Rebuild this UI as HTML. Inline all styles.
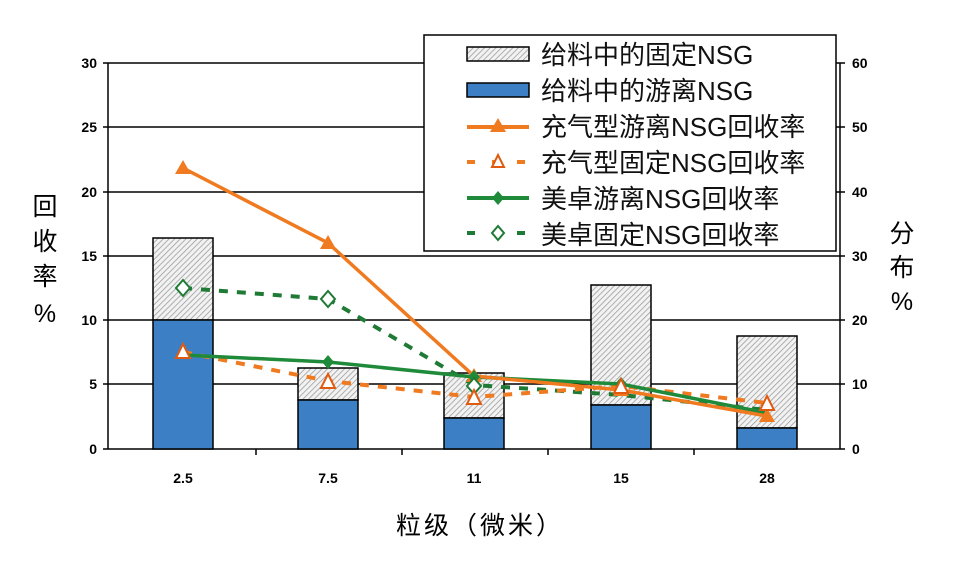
<!DOCTYPE html>
<html><head><meta charset="utf-8"><style>
body{margin:0;background:#fff;}
svg text{font-family:"Liberation Sans","Noto Sans CJK SC",sans-serif;}
</style></head><body>
<svg width="960" height="559" viewBox="0 0 960 559" xmlns="http://www.w3.org/2000/svg">
<defs>
<pattern id="h" width="4" height="4" patternUnits="userSpaceOnUse" patternTransform="rotate(45)">
<rect width="4" height="4" fill="#f2f2f2"/><line x1="0" y1="0" x2="0" y2="4" stroke="#999" stroke-width="1.5"/>
</pattern>
</defs>
<g stroke="#000" stroke-width="1.5">
<line x1="108" y1="63" x2="840" y2="63"/>
<line x1="108" y1="127" x2="840" y2="127"/>
<line x1="108" y1="192" x2="840" y2="192"/>
<line x1="108" y1="256" x2="840" y2="256"/>
<line x1="108" y1="320" x2="840" y2="320"/>
<line x1="108" y1="384" x2="840" y2="384"/>
<line x1="108" y1="63" x2="108" y2="449"/>
<line x1="840" y1="63" x2="840" y2="449"/>
<line x1="108" y1="449" x2="840" y2="449"/>
<line x1="103" y1="63" x2="108" y2="63"/><line x1="103" y1="127" x2="108" y2="127"/><line x1="103" y1="192" x2="108" y2="192"/><line x1="103" y1="256" x2="108" y2="256"/><line x1="103" y1="320" x2="108" y2="320"/><line x1="103" y1="384" x2="108" y2="384"/><line x1="103" y1="449" x2="108" y2="449"/>
<line x1="840" y1="63" x2="845" y2="63"/><line x1="840" y1="127" x2="845" y2="127"/><line x1="840" y1="192" x2="845" y2="192"/><line x1="840" y1="256" x2="845" y2="256"/><line x1="840" y1="320" x2="845" y2="320"/><line x1="840" y1="384" x2="845" y2="384"/><line x1="840" y1="449" x2="845" y2="449"/>
<line x1="256" y1="449" x2="256" y2="455"/><line x1="402" y1="449" x2="402" y2="455"/><line x1="548" y1="449" x2="548" y2="455"/><line x1="694" y1="449" x2="694" y2="455"/>
</g>
<g stroke="#000" stroke-width="1.5">
<rect x="153" y="238" width="60" height="82" fill="url(#h)"/><rect x="153" y="320" width="60" height="129" fill="#3d7fc4"/>
<rect x="298" y="368" width="60" height="32" fill="url(#h)"/><rect x="298" y="400" width="60" height="49" fill="#3d7fc4"/>
<rect x="444" y="373" width="60" height="45" fill="url(#h)"/><rect x="444" y="418" width="60" height="31" fill="#3d7fc4"/>
<rect x="591" y="285" width="60" height="120" fill="url(#h)"/><rect x="591" y="405" width="60" height="44" fill="#3d7fc4"/>
<rect x="737" y="336" width="60" height="92" fill="url(#h)"/><rect x="737" y="428" width="60" height="21" fill="#3d7fc4"/>
</g>
<polyline points="183,288 328,299 474,385 621,395 767,410" fill="none" stroke="#1e7a35" stroke-width="4" stroke-dasharray="9,9"/>
<polyline points="183,352 328,381 474,397 621,386 767,403" fill="none" stroke="#f07a20" stroke-width="4" stroke-dasharray="9,9"/>
<polyline points="183,355 328,362 474,377 621,384 767,413" fill="none" stroke="#1e8a3a" stroke-width="3.5"/>
<polyline points="183,168 328,243 474,376 621,390 767,416" fill="none" stroke="#f07a20" stroke-width="3.5"/>
<g fill="#f07a20"><path d="M183,160 l8,14 h-16z"/><path d="M328,235 l8,14 h-16z"/><path d="M474,368 l8,14 h-16z"/><path d="M621,382 l8,14 h-16z"/><path d="M767,408 l8,14 h-16z"/></g>
<g fill="#1e8a3a"><path d="M328,355 l6,7 -6,7 -6,-7z"/><path d="M621,377 l6,7 -6,7 -6,-7z"/><path d="M474,370 l6,7 -6,7 -6,-7z"/></g>
<g fill="#fff" stroke="#1e7a35" stroke-width="2"><path d="M183,280 l7,8 -7,8 -7,-8z"/><path d="M328,291 l7,8 -7,8 -7,-8z"/><path d="M474,378 l7,8 -7,8 -7,-8z"/></g>
<g fill="#fff" stroke="#e05a10" stroke-width="2"><path d="M183,344 l7,14 h-14z"/><path d="M328,374 l7,14 h-14z"/><path d="M474,390 l7,14 h-14z"/><path d="M621,379 l7,14 h-14z"/><path d="M767,396 l7,14 h-14z"/></g>
<g font-size="14" font-weight="bold" style="font-family:'Liberation Serif',serif" text-anchor="end">
<text x="97" y="68">30</text><text x="97" y="132">25</text><text x="97" y="197">20</text><text x="97" y="261">15</text><text x="97" y="325">10</text><text x="97" y="389">5</text><text x="97" y="454">0</text>
</g>
<g font-size="14" font-weight="bold" style="font-family:'Liberation Serif',serif" text-anchor="start">
<text x="852" y="68">60</text><text x="852" y="132">50</text><text x="852" y="197">40</text><text x="852" y="261">30</text><text x="852" y="325">20</text><text x="852" y="389">10</text><text x="852" y="454">0</text>
</g>
<g font-size="14" font-weight="bold" style="font-family:'Liberation Serif',serif" text-anchor="middle">
<text x="183" y="483">2.5</text><text x="328" y="483">7.5</text><text x="474" y="483">11</text><text x="621" y="483">15</text><text x="767" y="483">28</text>
</g>
<g font-size="25" text-anchor="middle">
<text x="45" y="215">回</text><text x="45" y="250">收</text><text x="45" y="285">率</text><text x="45" y="322">%</text>
<text x="902" y="242">分</text><text x="902" y="276">布</text><text x="902" y="310">%</text>
<text x="480" y="534" letter-spacing="3">粒级（微米）</text>
</g>
<rect x="424" y="35" width="412" height="216" fill="#fff" stroke="#000" stroke-width="1.5"/>
<rect x="467" y="47" width="62" height="14" fill="url(#h)" stroke="#000" stroke-width="1.5"/>
<rect x="467" y="83" width="62" height="14" fill="#3d7fc4" stroke="#000" stroke-width="1.5"/>
<line x1="467" y1="127" x2="529" y2="127" stroke="#f07a20" stroke-width="4"/><path d="M498,118 l8,14 h-16z" fill="#f07a20"/>
<line x1="467" y1="162" x2="529" y2="162" stroke="#f07a20" stroke-width="4" stroke-dasharray="8,17"/><path d="M498,155 l6,12 h-12z" fill="#fff" stroke="#e05a10" stroke-width="2"/>
<line x1="467" y1="198" x2="529" y2="198" stroke="#1e8a3a" stroke-width="4"/><path d="M498,191 l6,7 -6,7 -6,-7z" fill="#1e8a3a"/>
<line x1="467" y1="233" x2="529" y2="233" stroke="#1e7a35" stroke-width="4" stroke-dasharray="8,17"/><path d="M498,226 l6,7 -6,7 -6,-7z" fill="#fff" stroke="#1e7a35" stroke-width="2"/>
<g font-size="26" fill="#111">
<text x="541" y="64">给料中的固定NSG</text>
<text x="541" y="100">给料中的游离NSG</text>
<text x="541" y="136">充气型游离NSG回收率</text>
<text x="541" y="172">充气型固定NSG回收率</text>
<text x="541" y="208">美卓游离NSG回收率</text>
<text x="541" y="244">美卓固定NSG回收率</text>
</g>
</svg>
</body></html>
